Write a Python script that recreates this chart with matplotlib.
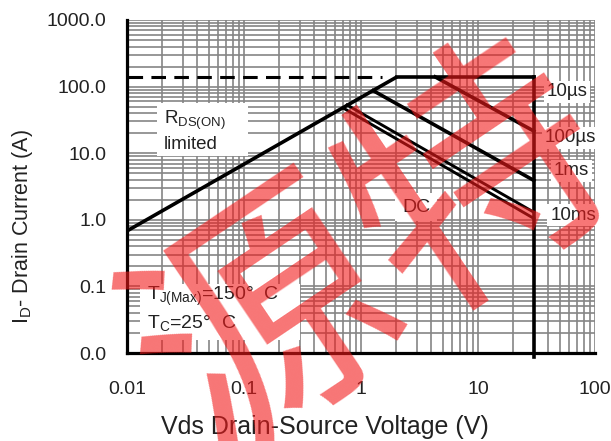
import matplotlib
matplotlib.use("Agg")
import matplotlib.pyplot as plt
from matplotlib.patches import Rectangle

plt.rcParams['font.family'] = ['Liberation Sans', 'DejaVu Sans']
plt.rcParams['lines.scale_dashes'] = False
plt.rcParams['mathtext.fontset'] = 'custom'
plt.rcParams['mathtext.rm'] = 'Liberation Sans'
plt.rcParams['mathtext.it'] = 'Liberation Sans'

# ---- data ----
x_ticks = [0.01, 0.1, 1, 10, 100]
x_ticklabels = ['0.01', '0.1', '1', '10', '100']
y_ticks = [0.01, 0.1, 1, 10, 100, 1000]
y_ticklabels = ['0.0', '0.1', '1.0', '10.0', '100.0', '1000.0']

rds_v = [0.01, 2.03]
rds_i = [0.68, 140]
limit_v = [0.0101, 1.52]      # dashed package limit
limit_i = [140, 140]
top_v = [2.03, 30]
top_i = [140, 140]
vmax_v = [30, 30]
vmax_i = [140, 0.0088]
us10_v = [4.3, 30]
us10_i = [140, 21.5]
us100_v = [1.27, 30]
us100_i = [87, 3.9]
ms1_v = [0.76, 30]
ms1_i = [53, 1.3]
dc_v = [0.70, 30]
dc_i = [48, 1.05]

curve_labels = ['10µs', '100µs', '1ms', '10ms']
curve_label_pos = [(0.940, 0.784), (0.947, 0.646), (0.949, 0.547), (0.953, 0.414)]

fig = plt.figure(figsize=(6.11, 4.41), dpi=100)
W, H = 611, 441
L, R, T, B = 127, 595, 20, 353
ax = fig.add_axes([L / W, 1 - B / H, (R - L) / W, (B - T) / H])
ax.set_xscale('log')
ax.set_yscale('log')
ax.set_xlim(0.01, 100)
ax.set_ylim(0.01, 1000)

ax.grid(which='both', color='#858585', lw=1.2, zorder=0)
ax.set_axisbelow(True)
for s in ['top', 'right']:
    ax.spines[s].set_visible(False)
for s in ['left', 'bottom']:
    ax.spines[s].set_linewidth(2.3)
    ax.spines[s].set_color('black')
    ax.spines[s].set_zorder(5)

ax.set_xticks(x_ticks)
ax.set_xticklabels(x_ticklabels)
ax.set_yticks(y_ticks)
ax.set_yticklabels(y_ticklabels)
ax.minorticks_on()
ax.tick_params(which='both', length=0)
ax.tick_params(axis='x', which='major', pad=20, labelsize=14, labelcolor='#222222')
ax.tick_params(axis='y', which='major', pad=15, labelsize=14, labelcolor='#222222')
ax.tick_params(which='minor', labelleft=False, labelbottom=False)

# white label boxes
def box(x0, y0, x1, y1):
    ax.add_patch(Rectangle(((x0 - L) / (R - L), (B - y1) / (B - T)),
                           (x1 - x0) / (R - L), (y1 - y0) / (B - T),
                           transform=ax.transAxes, facecolor='white',
                           edgecolor='none', zorder=1))

box(157, 103, 248, 156)
box(140, 284, 300, 340)
box(395, 193, 437, 221)

lw = 2.6
ax.plot(rds_v, rds_i, color='black', lw=lw, zorder=3, solid_capstyle='butt')
ax.plot(limit_v, limit_i, color='black', lw=2.2, dashes=(10.5, 6), zorder=3)
ax.plot(top_v, top_i, color='black', lw=lw, zorder=3)
ax.plot(vmax_v, vmax_i, color='black', lw=lw, zorder=6, clip_on=False)
ax.plot(us10_v, us10_i, color='black', lw=lw, zorder=3)
ax.plot(us100_v, us100_i, color='black', lw=lw, zorder=3)
ax.plot(ms1_v, ms1_i, color='black', lw=2.1, zorder=3)
ax.plot(dc_v, dc_i, color='black', lw=2.1, zorder=3)

for lab, (px, py) in zip(curve_labels, curve_label_pos):
    ax.text(px, py, lab, transform=ax.transAxes, ha='center', va='center',
            fontsize=13.5, color='#222222', zorder=4,
            bbox=dict(facecolor='white', edgecolor='none', pad=2))

ax.text((416 - L) / (R - L), (B - 208) / (B - T), 'DC', transform=ax.transAxes,
        ha='center', va='center', fontsize=14, color='#222222', zorder=4)
ax.text((164 - L) / (R - L), (B - 131) / (B - T),
        'R$_{\\mathregular{DS(ON)}}$\nlimited', transform=ax.transAxes,
        ha='left', va='center', fontsize=13.5, color='#222222', zorder=4,
        linespacing=1.3)
ax.text((147 - L) / (R - L), (B - 296) / (B - T),
        'T$_{\\mathregular{J(Max)}}$=150°  C', transform=ax.transAxes,
        ha='left', va='center', fontsize=14, color='#222222', zorder=4)
ax.text((147 - L) / (R - L), (B - 323) / (B - T),
        'T$_{\\mathregular{C}}$=25°  C', transform=ax.transAxes,
        ha='left', va='center', fontsize=14, color='#222222', zorder=4)

fig.text(325 / W, 1 - 427 / H, 'Vds Drain-Source Voltage (V)', ha='center',
         va='center', fontsize=18, color='#222222')
fig.text(23 / W, 1 - 226 / H, 'I$_{\\mathregular{D}}$- Drain Current (A)',
         ha='center', va='center', rotation=90, fontsize=15.5, color='#222222')

# red watermark
fig.text(375 / W, 1 - 258 / H, '源特', ha='center', va='center', rotation=34,
         fontsize=185, color=(0.95, 0.1, 0.1), alpha=0.6,
         family=['Noto Sans CJK SC'], fontweight='normal', zorder=10)

fig.savefig('out.png', dpi=100)
